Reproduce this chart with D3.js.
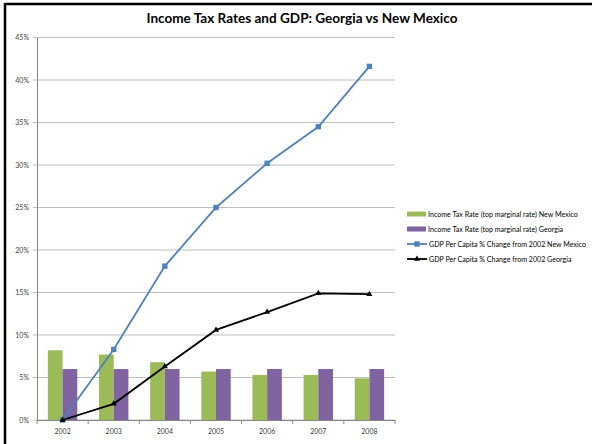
<!DOCTYPE html>
<html>
<head>
<meta charset="utf-8">
<script src="https://cdn.jsdelivr.net/npm/d3@7"></script>
<style>
  html, body { margin: 0; padding: 0; background: #fff; }
  svg { display: block; font-family: Lato, "Liberation Sans", sans-serif; }
</style>
</head>
<body>
<svg id="chart" width="592" height="444"></svg>
<script>
// Years on the category axis
const years = ["2002", "2003", "2004", "2005", "2006", "2007", "2008"];

// Top marginal income tax rates (%)
const taxNewMexico = [8.2, 7.7, 6.8, 5.7, 5.3, 5.3, 4.9];
const taxGeorgia   = [6.0, 6.0, 6.0, 6.0, 6.0, 6.0, 6.0];

// GDP per capita, % change from 2002
const gdpNewMexico = [0, 8.3, 18.1, 25.0, 30.2, 34.5, 41.6];
const gdpGeorgia   = [0, 1.9, 6.3, 10.6, 12.7, 14.9, 14.8];

// Y axis ticks (%)
const yTicks = [0, 5, 10, 15, 20, 25, 30, 35, 40, 45];

const seriesNames = [
  "Income Tax Rate (top marginal rate) New Mexico",
  "Income Tax Rate (top marginal rate) Georgia",
  "GDP Per Capita % Change from 2002 New Mexico",
  "GDP Per Capita % Change from 2002 Georgia"
];
const colors = ["#9BBB59", "#8064A2", "#4F81BD", "#000000"];

const svg = d3.select("#chart");

// Outer frame (top and left edges of the chart border)
svg.append("line").attr("x1", 5).attr("x2", 592).attr("y1", 4).attr("y2", 4)
  .attr("stroke", "#000").attr("stroke-width", 2.5);
svg.append("line").attr("x1", 5).attr("x2", 5).attr("y1", 3).attr("y2", 444)
  .attr("stroke", "#000").attr("stroke-width", 2.5);

// Title
svg.append("text")
  .attr("x", 302).attr("y", 23)
  .attr("text-anchor", "middle")
  .attr("font-size", 14).attr("font-weight", "bold")
  .attr("fill", "#000")
  .attr("textLength", 311).attr("lengthAdjust", "spacingAndGlyphs")
  .text("Income Tax Rates and GDP: Georgia vs New Mexico");

const plotLeft = 37, plotRight = 395, plotTop = 37.5, plotBottom = 420;

const x = d3.scaleBand().domain(years).range([plotLeft, plotRight]).padding(0);
const xs = d3.scaleBand().domain([0, 1]).range([0, x.bandwidth()]).paddingInner(0).paddingOuter(0.74);
const y = d3.scaleLinear().domain([0, 45]).range([plotBottom, plotTop]);

// Gridlines
svg.append("g").selectAll("line").data(yTicks).join("line")
  .attr("x1", plotLeft - 4).attr("x2", plotRight)
  .attr("y1", d => y(d)).attr("y2", d => y(d))
  .attr("stroke", "#bfbfbf").attr("stroke-width", 1);

// Y axis
const yAxis = d3.axisLeft(y).tickValues(yTicks).tickSize(0).tickPadding(8)
  .tickFormat(d => d + "%");
const gy = svg.append("g").attr("transform", `translate(${plotLeft},0)`).call(yAxis);
gy.select(".domain").attr("stroke", "#868686");
gy.selectAll("text").attr("font-size", 7).attr("fill", "#404040")
  .attr("font-family", "Lato, 'Liberation Sans', sans-serif");

// Bars
const barData = [taxNewMexico, taxGeorgia];
barData.forEach((vals, si) => {
  svg.append("g").selectAll("rect").data(vals).join("rect")
    .attr("x", (d, i) => x(years[i]) + xs(si))
    .attr("width", xs.bandwidth())
    .attr("y", d => y(d))
    .attr("height", d => y(0) - y(d))
    .attr("fill", colors[si]);
});

// X axis
const xAxis = d3.axisBottom(x).tickSize(0).tickPadding(9);
const gx = svg.append("g").attr("transform", `translate(0,${plotBottom})`).call(xAxis);
gx.select(".domain").attr("stroke", "#868686");
gx.selectAll("text").attr("font-size", 7).attr("fill", "#404040")
  .attr("font-family", "Lato, 'Liberation Sans', sans-serif");
// category boundary ticks
svg.append("g").selectAll("line").data(years.concat(["end"])).join("line")
  .attr("x1", (d, i) => plotLeft + i * x.step()).attr("x2", (d, i) => plotLeft + i * x.step())
  .attr("y1", plotBottom).attr("y2", plotBottom + 4)
  .attr("stroke", "#868686");

// Lines
const cx = i => x(years[i]) + x.bandwidth() / 2;
const line = d3.line().x((d, i) => cx(i)).y(d => y(d));
const tri = d3.symbol().type(d3.symbolTriangle).size(16);

[[gdpNewMexico, 2], [gdpGeorgia, 3]].forEach(([vals, ci]) => {
  svg.append("path").datum(vals)
    .attr("d", line).attr("fill", "none")
    .attr("stroke", colors[ci]).attr("stroke-width", 1.8);
  const g = svg.append("g");
  if (ci === 2) {
    g.selectAll("rect").data(vals).join("rect")
      .attr("x", (d, i) => cx(i) - 2.7).attr("y", d => y(d) - 2.7)
      .attr("width", 5.4).attr("height", 5.4)
      .attr("fill", colors[ci]);
  } else {
    g.selectAll("path").data(vals).join("path")
      .attr("d", tri)
      .attr("transform", (d, i) => `translate(${cx(i)},${y(d)})`)
      .attr("fill", colors[ci]);
  }
});

// Legend
const legend = svg.append("g").attr("transform", "translate(407,214)");
seriesNames.forEach((name, i) => {
  const g = legend.append("g").attr("transform", `translate(0,${i * 15})`);
  if (i < 2) {
    g.append("rect").attr("x", 0).attr("y", -2.5).attr("width", 19).attr("height", 5)
      .attr("fill", colors[i]);
  } else {
    g.append("line").attr("x1", 0).attr("x2", 20).attr("y1", 0).attr("y2", 0)
      .attr("stroke", colors[i]).attr("stroke-width", 1.8);
    if (i === 2) {
      g.append("rect").attr("x", 7.3).attr("y", -2.7).attr("width", 5.4).attr("height", 5.4)
        .attr("fill", colors[i]);
    } else {
      g.append("path").attr("d", tri).attr("transform", "translate(10,0)").attr("fill", colors[i]);
    }
  }
  g.append("text").attr("x", i < 2 ? 21 : 22).attr("y", 2.5)
    .attr("font-size", 7.1).attr("fill", "#000")
    .text(name);
});
</script>
</body>
</html>
